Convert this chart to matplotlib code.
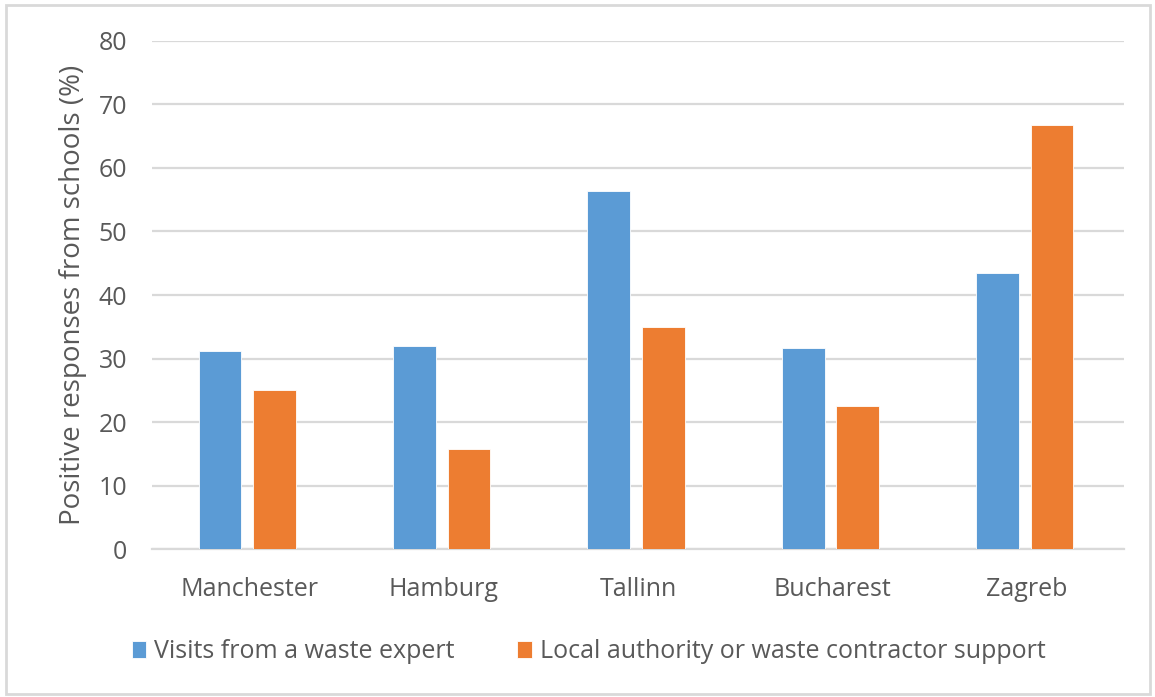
import numpy as np
import matplotlib.pyplot as plt
from matplotlib.patches import Rectangle

cities = ['Manchester', 'Hamburg', 'Tallinn', 'Bucharest', 'Zagreb']
visits_expert = [31.2, 32.0, 56.4, 31.7, 43.4]
authority_support = [25.0, 15.8, 34.9, 22.6, 66.8]
series_names = ['Visits from a waste expert',
                'Local authority or waste contractor support']
yticks = [0, 10, 20, 30, 40, 50, 60, 70, 80]

plt.rcParams['font.family'] = ['Open Sans', 'DejaVu Sans']
text_color = '#595959'
grid_color = '#d9d9d9'

fig = plt.figure(figsize=(11.55, 6.97), dpi=100)
ax = fig.add_axes([0.1316, 0.2123, 0.8416, 0.7289])

x = np.arange(len(cities))
w = 0.22
off = 0.14
ax.bar(x - off - 0.01, visits_expert, w, color='#5B9BD5', edgecolor='white',
       linewidth=0.6, label=series_names[0], zorder=3)
ax.bar(x + off - 0.01, authority_support, w, color='#ED7D31', edgecolor='white',
       linewidth=0.6, label=series_names[1], zorder=3)

ax.set_xlim(-0.5, len(cities) - 0.5)
ax.set_ylim(0, 80)
ax.set_yticks(yticks)
ax.set_xticks(x)
ax.set_xticklabels(cities)
ax.yaxis.grid(True, color=grid_color, linewidth=1.6, zorder=0)
ax.set_axisbelow(True)
for s in ['top', 'right', 'left']:
    ax.spines[s].set_visible(False)
ax.spines['bottom'].set_color(grid_color)
ax.spines['bottom'].set_linewidth(1.6)
ax.tick_params(axis='y', length=0, pad=18, labelsize=18, labelcolor=text_color)
ax.tick_params(axis='x', length=0, pad=20, labelsize=18, labelcolor=text_color)
ax.set_ylabel('Positive responses from schools (%)', fontsize=20,
              color=text_color, labelpad=8)

fig.legend(loc='center', bbox_to_anchor=(0.5095, 0.065), ncol=2, frameon=False,
           fontsize=18, labelcolor=text_color, handlelength=0.58,
           handleheight=0.65, handletextpad=0.32, columnspacing=2.5)

fig.patches.append(Rectangle((6 / 1155, 3 / 697), 1144 / 1155, 689 / 697,
                             transform=fig.transFigure, fill=False,
                             edgecolor=grid_color, linewidth=2))

fig.savefig('out.png', dpi=100)
